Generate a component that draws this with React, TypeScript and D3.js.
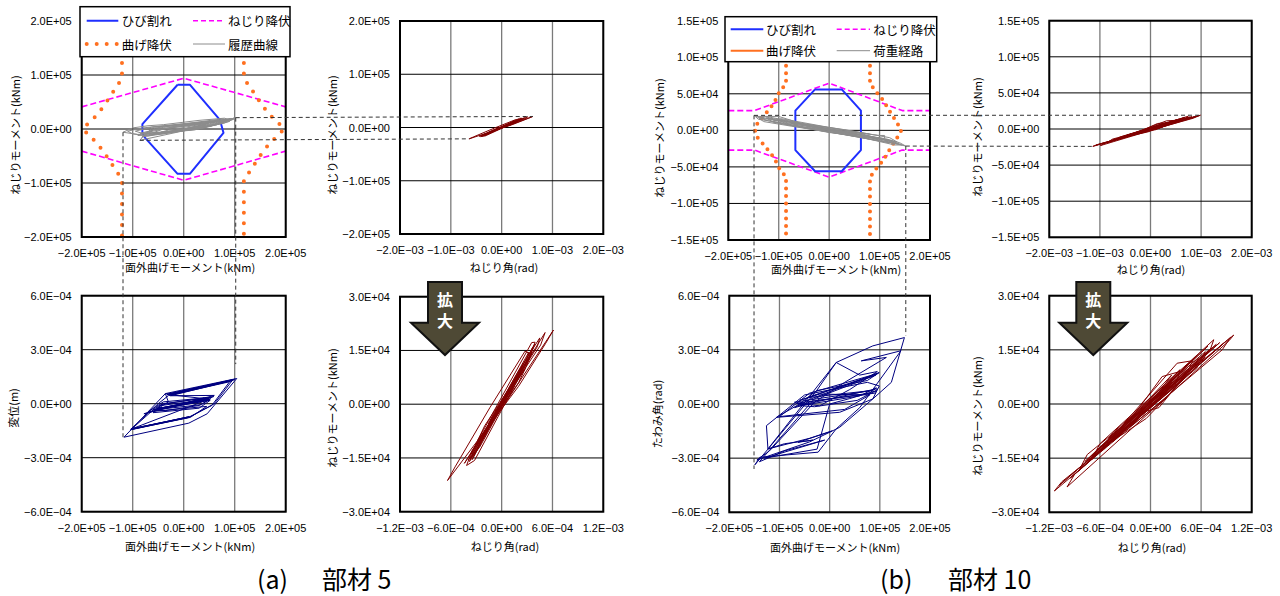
import React from "react";
import * as d3 from "d3";

type Pt = [number, number];

// ---------- tick values ----------
const ticksBend = [-200000, -100000, 0, 100000, 200000];
const ticksTorqueA = [-200000, -100000, 0, 100000, 200000];
const ticksTorqueB = [-150000, -100000, -50000, 0, 50000, 100000, 150000];
const ticksTwistWide = [-2e-3, -1e-3, 0, 1e-3, 2e-3];
const ticksTwistZoom = [-1.2e-3, -6e-4, 0, 6e-4, 1.2e-3];
const ticksTorqueZoom = [-3e4, -1.5e4, 0, 1.5e4, 3e4];
const ticksDefl = [-6e-4, -3e-4, 0, 3e-4, 6e-4];

// ---------- member 5 (a): interaction diagram ----------
const crackA: Pt[] = [[-12000, 82000], [12000, 82000], [71000, 17000], [78000, -7000], [12000, -83000], [-12000, -83000], [-76000, -16000], [-81000, -7000], [-81000, 9000], [-12000, 82000]];
const torsionYieldA_top: Pt[] = [[-200000, 41000], [0, 94000], [200000, 41000]];
const torsionYieldA_bot: Pt[] = [[-200000, -41000], [0, -95000], [200000, -41000]];
const bendYieldA_L: Pt[] = [[-121000, 200000], [-121000, 93000], [-132000, 78000], [-145000, 59000], [-158000, 41000], [-171000, 25000], [-188000, 10000], [-197000, 0], [-188000, -10000], [-171000, -25000], [-158000, -41000], [-145000, -59000], [-132000, -78000], [-121000, -93000], [-121000, -200000]];
const bendYieldA_R: Pt[] = [[118000, 200000], [118000, 93000], [130000, 78000], [143000, 59000], [156000, 41000], [170000, 25000], [187000, 10000], [197000, 0], [187000, -10000], [170000, -25000], [156000, -41000], [143000, -59000], [130000, -78000], [118000, -93000], [118000, -200000]];
const histA: Pt[] = [[0, 0], [20000, 4000], [45000, 9000], [30000, 5000], [-20000, -3000], [-45000, -6000], [-30000, -2000], [55000, 12000], [62000, 13000], [40000, 6000], [-50000, -8000], [-60000, -7000], [-40000, 0], [70000, 15000], [78000, 16000], [50000, 8000], [-65000, -10000], [-75000, -12000], [-55000, 2000], [85000, 18000], [92000, 19000], [60000, 9000], [-86000, -21000], [-80000, -14000], [-60000, 3000], [95000, 19000], [102000, 21000], [70000, 10000], [20000, -2000], [-90000, -10000], [-119000, -6000], [-100000, 2000], [-70000, 6000], [-40000, 8000], [30000, 16000], [80000, 20000], [88000, 17000], [45000, 5000], [-30000, -5000], [-78000, -9000], [-95000, -4000], [-60000, 4000], [30000, 10000], [75000, 14000], [98000, 20000], [55000, 6000], [0, -3000], [-50000, -6000], [-85000, -8000], [-40000, 3000], [10000, 7000], [60000, 14000], [96000, 18000], [65000, 8000], [10000, -1000], [-55000, -10000], [-82000, -15000], [-70000, -6000], [-20000, 4000], [40000, 13000], [85000, 16000], [90000, 14000], [40000, 2000], [-20000, -6000], [-70000, -13000], [-100000, -9000], [-110000, -4000], [-80000, 2000], [-30000, 7000], [20000, 12000], [70000, 18000], [100000, 19000], [80000, 11000], [30000, 1000], [-40000, -9000], [-90000, -12000], [-60000, -2000], [0, 5000], [50000, 11000], [0, 0]];

// ---------- member 5 (a): twist hysteresis (rad, kNm) ----------
const twistA: Pt[] = [[0, 0], [1.0e-4, 3500], [1.5e-4, 5000], [0.8e-4, 2000], [-1.2e-4, -4500], [-1.6e-4, -5500], [-0.8e-4, -2000], [2.2e-4, 8000], [2.8e-4, 10000], [2.0e-4, 6000], [-2.3e-4, -8500], [-2.8e-4, -10000], [-2.0e-4, -6000], [3.0e-4, 12000], [3.6e-4, 14500], [2.8e-4, 10000], [-3.0e-4, -11500], [-3.6e-4, -14000], [-2.8e-4, -10000], [3.55e-4, 17200], [3.95e-4, 17300], [3.2e-4, 12500], [-3.2e-4, -15700], [-4.14e-4, -17100], [-3.5e-4, -13000], [5.13e-4, 20000], [4.6e-4, 16500], [0.5e-4, 2000], [-3.8e-4, -16000], [-3.0e-4, -12000], [6.12e-4, 20700], [5.2e-4, 17000], [2.0e-4, 5000], [-6.39e-4, -21300], [-5.5e-4, -17500], [-1.4e-4, -1000], [2.76e-4, 14800], [3.4e-4, 14000], [-2.0e-4, -9000], [-3.5e-4, -15500], [-2.5e-4, -11000], [3.7e-4, 16000], [3.3e-4, 13500], [-3.3e-4, -14000], [-3.9e-4, -15500], [-3.1e-4, -12500], [3.9e-4, 16800], [3.5e-4, 14200], [-2.6e-4, -12000], [-3.7e-4, -15200], [-2.9e-4, -11500], [3.2e-4, 14500], [2.9e-4, 11800], [-2.2e-4, -9500], [-3.3e-4, -14500], [-2.4e-4, -9800], [2.5e-4, 11000], [2.1e-4, 8500], [-1.5e-4, -6500], [-2.0e-4, -8000], [-1.2e-4, -4000], [1.8e-4, 8500], [4.5e-4, 18500], [4.2e-4, 16000], [-4.4e-4, -16500], [-3.4e-4, -13000], [0, 0]];

// ---------- member 5 (a): displacement vs bending (kNm, m) ----------
const dispA: Pt[] = [[0, 0], [35000, 0.20e-4], [52000, 0.25e-4], [30000, -0.10e-4], [-35000, -0.38e-4], [-59000, -0.37e-4], [-40000, 0], [40000, 0.30e-4], [55000, 0.35e-4], [35000, -0.05e-4], [-45000, -0.30e-4], [-60000, -0.33e-4], [-45000, -0.05e-4], [45000, 0.35e-4], [50000, 0.20e-4], [-55000, -0.35e-4], [-30000, 0.10e-4], [-36000, 0.56e-4], [104000, 1.40e-4], [46000, -0.56e-4], [10000, -1.08e-4], [-117000, -1.86e-4], [-36000, 0.56e-4], [-30000, 0.55e-4], [98000, 1.32e-4], [-28000, 0.48e-4], [95000, 1.28e-4], [60000, 0], [12000, -0.74e-4], [-104000, -1.42e-4], [-50000, 0], [-30000, 0.45e-4], [90000, 1.22e-4], [55000, -0.10e-4], [12000, -0.72e-4], [-100000, -1.38e-4], [10000, -0.76e-4], [-104000, -1.45e-4], [-60000, -0.35e-4], [52000, 0.19e-4], [30000, -0.25e-4], [-60000, -0.50e-4], [-45000, -0.10e-4], [50000, 0.25e-4], [-33000, 0.52e-4], [100000, 1.36e-4], [-32000, 0.50e-4], [96000, 1.30e-4], [-26000, 0.44e-4], [60000, 0.46e-4], [-78000, -0.56e-4], [59000, 0.40e-4], [-50000, -0.30e-4], [48000, 0.22e-4], [-48000, -0.25e-4], [50000, 0.28e-4], [-52000, -0.28e-4], [45000, 0.20e-4], [-102000, -1.40e-4], [11000, -0.72e-4], [-103000, -1.43e-4], [13000, -0.76e-4], [45000, -0.15e-4], [-70000, -0.45e-4], [-40000, 0.10e-4], [40000, 0.32e-4], [0, 0]];

// ---------- member 10 (b): interaction diagram ----------
const crackB: Pt[] = [[-28000, 56000], [25000, 56000], [63000, 27000], [63000, -27000], [25000, -56000], [-28000, -56000], [-67000, -27000], [-67000, 27000], [-28000, 56000]];
const torsionYieldB_top: Pt[] = [[-200000, 27000], [-148000, 27000], [0, 64600], [145000, 27000], [200000, 27000]];
const torsionYieldB_bot: Pt[] = [[-200000, -27000], [-148000, -27000], [0, -64000], [145000, -27000], [200000, -27000]];
const bendYieldB_L: Pt[] = [[-85500, 150000], [-85500, 64000], [-99000, 52000], [-106000, 42000], [-115000, 32000], [-129000, 20500], [-142000, 10000], [-147000, 0], [-142000, -10000], [-129000, -20500], [-115000, -32000], [-106000, -42000], [-99000, -52000], [-85500, -64000], [-85500, -150000]];
const bendYieldB_R: Pt[] = [[81000, 150000], [81000, 64000], [94000, 52000], [106000, 42000], [115000, 32000], [125000, 20500], [135000, 10000], [143000, 0], [135000, -10000], [125000, -20500], [115000, -32000], [106000, -42000], [94000, -52000], [81000, -64000], [81000, -150000]];
const histB: Pt[] = [[0, 0], [30000, -5000], [50000, -7000], [40000, -3000], [-20000, 3000], [-45000, 6000], [-35000, 3000], [10000, -1000], [65000, -9000], [75000, -10000], [55000, -5000], [-60000, 9000], [-75000, 10000], [-60000, 6000], [90000, -13000], [100000, -14000], [80000, -8000], [-90000, 13000], [-100000, 14000], [-85000, 9000], [110000, -16000], [120000, -17000], [105000, -11000], [-110000, 16000], [-125000, 17000], [-110000, 11000], [130000, -18000], [140000, -19000], [115000, -12000], [40000, -4000], [-135000, 18000], [-149000, 20500], [-140000, 15000], [-90000, 10000], [100000, -7000], [110000, -7000], [110000, -11000], [80000, -10000], [152000, -21500], [140000, -17000], [120000, -13000], [0, -3000], [-120000, 13000], [-145000, 19000], [-100000, 19000], [-20000, 2000], [60000, -6000], [125000, -15000], [100000, -12000], [20000, -4000], [-60000, 4000], [-130000, 12000], [-140000, 17000], [-70000, 11000], [30000, 1000], [120000, -10000], [135000, -16000], [90000, -10000], [-10000, 1000], [-110000, 14000], [-125000, 19000], [-50000, 9000], [50000, -2000], [145000, -20000], [130000, -20000], [60000, -9000], [-40000, 2000], [-115000, 12000], [-95000, 16000], [0, 4000], [80000, -5000], [0, 0]];

// ---------- member 10 (b): twist hysteresis (rad, kNm) ----------
const twistB: Pt[] = [[0, 0], [1.5e-4, 4000], [2.5e-4, 6000], [1.8e-4, 3000], [-1.5e-4, -4000], [-2.5e-4, -5500], [-1.8e-4, -2500], [1.38e-4, 7600], [3.5e-4, 9000], [2.8e-4, 4500], [-3.5e-4, -8000], [-4.0e-4, -9500], [-3.0e-4, -5000], [3.16e-4, 11300], [5.0e-4, 12000], [4.0e-4, 7000], [-0.5e-4, -4000], [-5.0e-4, -11000], [-5.5e-4, -12500], [-4.5e-4, -8000], [6.0e-4, 13500], [6.5e-4, 14500], [5.5e-4, 10000], [-6.5e-4, -14000], [-7.0e-4, -15500], [-6.0e-4, -11000], [7.5e-4, 17800], [7.0e-4, 14500], [5.0e-4, 11500], [-8.0e-4, -17500], [-8.5e-4, -18500], [-7.5e-4, -14000], [9.87e-4, 19100], [9.3e-4, 17500], [-9.9e-4, -23000], [-9.0e-4, -19500], [9.5e-4, 18500], [8.5e-4, 15000], [-11.4e-4, -24100], [-10.5e-4, -21500], [2.0e-4, 2000], [4.5e-4, 9000], [1.0e-4, -1000], [-2.0e-4, -3000], [-7.8e-4, -16000], [7.2e-4, 15500], [-7.0e-4, -14500], [6.8e-4, 16000], [-6.2e-4, -12500], [8.2e-4, 17000], [-8.8e-4, -19000], [5.8e-4, 11500], [-5.0e-4, -9500], [7.8e-4, 16500], [-9.5e-4, -20500], [9.0e-4, 17500], [-10.8e-4, -22500], [6.5e-4, 13000], [-4.0e-4, -7500], [3.5e-4, 9500], [-3.0e-4, -7000], [4.2e-4, 10500], [1.0e-4, 3500], [-2.5e-4, -6500], [3.0e-4, 6000], [-4.5e-4, -10500], [5.5e-4, 13500], [-6.0e-4, -13000], [2.5e-4, 8000], [0, 0]];

// ---------- member 10 (b): deflection angle vs bending (kNm, rad) ----------
const deflB: Pt[] = [[0, 0], [40000, 0.3e-4], [93000, 0.74e-4], [55000, 0.2e-4], [-30000, -0.15e-4], [-60000, -0.09e-4], [-35000, 0.15e-4], [80000, 0.6e-4], [93000, 0.9e-4], [60000, 0.45e-4], [-50000, -0.05e-4], [-70000, -0.2e-4], [-40000, 0.25e-4], [99000, 1.75e-4], [75000, 1.3e-4], [-26000, 0.74e-4], [-60000, 0], [-106000, -0.74e-4], [20000, -0.46e-4], [86000, 0.28e-4], [99000, 1.0e-4], [75000, 1.2e-4], [-50000, 0.5e-4], [-126000, -1.2e-4], [-123000, -2.49e-4], [-40000, -1.9e-4], [7000, -1.47e-4], [20000, -1.29e-4], [86000, 0.28e-4], [123000, 1.2e-4], [149000, 3.68e-4], [86000, 3.22e-4], [13000, 2.30e-4], [-26000, 0.74e-4], [-149000, -3.37e-4], [-139000, -2.95e-4], [-23000, -2.67e-4], [13000, -1.38e-4], [60000, -0.2e-4], [142000, 2.95e-4], [63000, 2.39e-4], [113000, 2.58e-4], [30000, 1.2e-4], [-30000, 0.1e-4], [-120000, -2.6e-4], [-145000, -3.1e-4], [-40000, -2.1e-4], [5000, -1.5e-4], [-63000, -2.12e-4], [-33000, -2.0e-4], [-90000, -2.2e-4], [-123000, -2.49e-4], [13000, 2.30e-4], [60000, 1.6e-4], [95000, 1.8e-4], [40000, 0.8e-4], [-20000, -0.1e-4], [-65000, 0.05e-4], [90000, 0.6e-4], [95000, 0.85e-4], [-55000, -0.05e-4], [-70000, 0.1e-4], [85000, 0.75e-4], [-45000, 0.35e-4], [97000, 1.7e-4], [-40000, 0.6e-4], [-100000, -0.7e-4], [30000, -0.3e-4], [80000, 0.5e-4], [-20000, 0.55e-4], [-60000, 0.2e-4], [70000, 1.4e-4], [92000, 1.6e-4], [-30000, 0.3e-4], [-140000, -3.2e-4], [-90000, -2.6e-4], [-10000, -2.0e-4], [-130000, -3.0e-4], [-25000, -2.5e-4], [0, 0]];

// ---------- texts ----------
const labelBend = "面外曲げモーメント(kNm)";
const labelTorque = "ねじりモーメント(kNm)";
const labelTwist = "ねじり角(rad)";
const labelDispA = "変位(m)";
const labelDeflB = "たわみ角(rad)";
const legendA = ["ひび割れ", "ねじり降伏", "曲げ降伏", "履歴曲線"];
const legendB = ["ひび割れ", "ねじり降伏", "曲げ降伏", "荷重経路"];
const captionA = ["(a)", "部材 5"];
const captionB = ["(b)", "部材 10"];
const arrowText = ["拡", "大"];

// ---------- styles ----------
const C_CRACK = "#1f2fff";
const C_TYIELD = "#ff00ff";
const C_BYIELD = "#ff7020";
const C_HIST = "#8c8c8c";
const C_NAVY = "#000080";
const C_RED = "#800000";
const NUM_FONT = "'Liberation Sans', Arial, sans-serif";
const JP_FONT = "'Noto Sans CJK JP', 'Noto Sans', sans-serif";

interface PanelDef {
  x0: number; x1: number; y0: number; y1: number;
  xd: [number, number]; yd: [number, number];
  xt: number[]; yt: number[];
  xl: string; yl: string;
  xlx: number; xly: number; ylx: number; yly: number;
}

const P: Record<string, PanelDef> = {
  a1: { x0: 81.7, x1: 285.7, y0: 21, y1: 237, xd: [-2e5, 2e5], yd: [-2e5, 2e5], xt: ticksBend, yt: ticksTorqueA, xl: labelBend, yl: labelTorque, xlx: 190, xly: 272, ylx: 15, yly: 135 },
  a2: { x0: 400, x1: 603.3, y0: 21, y1: 234, xd: [-2e-3, 2e-3], yd: [-2e5, 2e5], xt: ticksTwistWide, yt: ticksTorqueA, xl: labelTwist, yl: labelTorque, xlx: 504, xly: 272, ylx: 332, yly: 135 },
  a3: { x0: 81.7, x1: 285.7, y0: 295.7, y1: 511.7, xd: [-2e5, 2e5], yd: [-6e-4, 6e-4], xt: ticksBend, yt: ticksDefl, xl: labelBend, yl: labelDispA, xlx: 190, xly: 551, ylx: 12.5, yly: 408 },
  a4: { x0: 400, x1: 603.3, y0: 296.7, y1: 511.7, xd: [-1.2e-3, 1.2e-3], yd: [-3e4, 3e4], xt: ticksTwistZoom, yt: ticksTorqueZoom, xl: labelTwist, yl: labelTorque, xlx: 505, xly: 551, ylx: 332, yly: 408 },
  b1: { x0: 728.3, x1: 930, y0: 20.7, y1: 240, xd: [-2e5, 2e5], yd: [-1.5e5, 1.5e5], xt: ticksBend, yt: ticksTorqueB, xl: labelBend, yl: labelTorque, xlx: 836, xly: 274, ylx: 659, yly: 138 },
  b2: { x0: 1049.3, x1: 1251.7, y0: 20.7, y1: 237.3, xd: [-2e-3, 2e-3], yd: [-1.5e5, 1.5e5], xt: ticksTwistWide, yt: ticksTorqueB, xl: labelTwist, yl: labelTorque, xlx: 1151, xly: 274, ylx: 977, yly: 137 },
  b3: { x0: 729.3, x1: 930, y0: 295.7, y1: 512.3, xd: [-2e5, 2e5], yd: [-6e-4, 6e-4], xt: ticksBend, yt: ticksDefl, xl: labelBend, yl: labelDeflB, xlx: 835, xly: 552, ylx: 657, yly: 414 },
  b4: { x0: 1049.3, x1: 1251.7, y0: 295.7, y1: 512.3, xd: [-1.2e-3, 1.2e-3], yd: [-3e4, 3e4], xt: ticksTwistZoom, yt: ticksTorqueZoom, xl: labelTwist, yl: labelTorque, xlx: 1152, xly: 552, ylx: 977, yly: 416 },
};

function scales(p: PanelDef) {
  return {
    x: d3.scaleLinear().domain(p.xd).range([p.x0, p.x1]),
    y: d3.scaleLinear().domain(p.yd).range([p.y1, p.y0]),
  };
}

function fmt(v: number): string {
  if (v === 0) return "0.0E+00";
  const e = Math.floor(Math.log10(Math.abs(v)) + 1e-9);
  const m = Math.abs(v) / Math.pow(10, e);
  return (v < 0 ? "\u2212" : "") + m.toFixed(1) + "E" + (e < 0 ? "\u2212" : "+") + String(Math.abs(e)).padStart(2, "0");
}

function Grid({ p }: { p: PanelDef }) {
  const { x, y } = scales(p);
  return (
    <g>
      <rect x={p.x0} y={p.y0} width={p.x1 - p.x0} height={p.y1 - p.y0} fill="#fff" />
      {p.xt.map((t) => (
        <line key={"v" + t} x1={x(t)} x2={x(t)} y1={p.y0} y2={p.y1} stroke="#7a7a7a" strokeWidth={1.3} />
      ))}
      {p.yt.map((t) => (
        <line key={"h" + t} x1={p.x0} x2={p.x1} y1={y(t)} y2={y(t)} stroke="#000" strokeWidth={1} />
      ))}
    </g>
  );
}

function Frame({ p }: { p: PanelDef }) {
  const { x, y } = scales(p);
  return (
    <g>
      <rect x={p.x0} y={p.y0} width={p.x1 - p.x0} height={p.y1 - p.y0} fill="none" stroke="#000" strokeWidth={2} />
      {p.yt.map((t) => (
        <text key={"yl" + t} x={p.x0 - 10} y={y(t)} textAnchor="end" dominantBaseline="central" fontFamily={NUM_FONT} fontSize={11} fill="#000">{fmt(t)}</text>
      ))}
      {p.xt.map((t) => (
        <text key={"xl" + t} x={x(t)} y={p.y1 + 16} textAnchor="middle" dominantBaseline="central" fontFamily={NUM_FONT} fontSize={11} fill="#000">{fmt(t)}</text>
      ))}
      <text x={p.xlx} y={p.xly} textAnchor="middle" fontFamily={JP_FONT} fontSize={11} fill="#000">{p.xl}</text>
      <text transform={`translate(${p.ylx},${p.yly}) rotate(-90)`} textAnchor="middle" dominantBaseline="central" fontFamily={JP_FONT} fontSize={11} fill="#000">{p.yl}</text>
    </g>
  );
}

function Series({ p, data, color, width = 1, dash, cap }: { p: PanelDef; data: Pt[]; color: string; width?: number; dash?: string; cap?: "round" | "butt" }) {
  const { x, y } = scales(p);
  const gen = d3.line<Pt>().x((d) => x(d[0])).y((d) => y(d[1]));
  return <path d={gen(data) || ""} fill="none" stroke={color} strokeWidth={width} strokeDasharray={dash} strokeLinecap={cap || "butt"} strokeLinejoin="round" />;
}

function Legend({ bx, by, bw, bh, rows, cols, texts, bendSolid }: { bx: number; by: number; bw: number; bh: number; rows: number[]; cols: number[][]; texts: string[]; bendSolid: boolean }) {
  const items = [
    { color: C_CRACK, w: 2, dash: undefined as string | undefined, cap: "butt" },
    { color: C_TYIELD, w: 1.6, dash: "5,3", cap: "butt" },
    bendSolid ? { color: C_BYIELD, w: 2, dash: undefined, cap: "butt" } : { color: C_BYIELD, w: 4, dash: "0,10", cap: "round" },
    { color: C_HIST, w: 1, dash: undefined, cap: "butt" },
  ];
  return (
    <g>
      <rect x={bx} y={by} width={bw} height={bh} fill="#fff" stroke="#000" strokeWidth={1.5} />
      {items.map((it, i) => {
        const r = rows[Math.floor(i / 2)];
        const c = cols[i % 2];
        return (
          <g key={i}>
            <line x1={c[0]} x2={c[1]} y1={r} y2={r} stroke={it.color} strokeWidth={it.w} strokeDasharray={it.dash} strokeLinecap={it.cap as any} />
            <text x={c[2]} y={r} dominantBaseline="central" fontFamily={JP_FONT} fontSize={12.5} fill="#000">{texts[i]}</text>
          </g>
        );
      })}
    </g>
  );
}

function Arrow({ cx }: { cx: number }) {
  const top = 282, neck = 322.7, tip = 355, sw = 17, hw = 34;
  const pts = [[cx - sw, top], [cx + sw, top], [cx + sw, neck], [cx + hw, neck], [cx, tip], [cx - hw, neck], [cx - sw, neck]];
  return (
    <g>
      <polygon points={pts.map((q) => q.join(",")).join(" ")} fill="#4e4935" stroke="#111" strokeWidth={2} />
      <text x={cx} y={298.5} textAnchor="middle" dominantBaseline="central" fontFamily={JP_FONT} fontWeight="bold" fontSize={16} fill="#fff">{arrowText[0]}</text>
      <text x={cx} y={320} textAnchor="middle" dominantBaseline="central" fontFamily={JP_FONT} fontWeight="bold" fontSize={16} fill="#fff">{arrowText[1]}</text>
    </g>
  );
}

function Connector({ p1, v1, p2, v2 }: { p1: PanelDef; v1: Pt; p2: PanelDef; v2: Pt }) {
  const s1 = scales(p1), s2 = scales(p2);
  return <line x1={s1.x(v1[0])} y1={s1.y(v1[1])} x2={s2.x(v2[0])} y2={s2.y(v2[1])} stroke="#333" strokeWidth={1} strokeDasharray="4,3" />;
}

function VConnector({ p1, v1, p2, yEnd }: { p1: PanelDef; v1: Pt; p2: PanelDef; yEnd: number }) {
  const s1 = scales(p1), s2 = scales(p2);
  const xx = s1.x(v1[0]);
  return <line x1={xx} y1={s1.y(v1[1])} x2={xx} y2={s2.y(yEnd)} stroke="#333" strokeWidth={1} strokeDasharray="4,3" />;
}

export default function App() {
  const { a1, a2, a3, a4, b1, b2, b3, b4 } = P;
  return (
    <svg width={1280} height={596} style={{ position: "absolute", left: 0, top: 0, background: "#fff" }}>
      <rect x={0} y={0} width={1280} height={596} fill="#fff" />
      {[a1, a2, a3, a4, b1, b2, b3, b4].map((p, i) => <Grid key={i} p={p} />)}

      {/* a1 */}
      <Series p={a1} data={torsionYieldA_top} color={C_TYIELD} width={1.6} dash="6,3" />
      <Series p={a1} data={torsionYieldA_bot} color={C_TYIELD} width={1.6} dash="6,3" />
      <Series p={a1} data={bendYieldA_L} color={C_BYIELD} width={4} dash="0,10.5" cap="round" />
      <Series p={a1} data={bendYieldA_R} color={C_BYIELD} width={4} dash="0,10.5" cap="round" />
      <Series p={a1} data={crackA} color={C_CRACK} width={2} />
      <Series p={a1} data={histA} color={C_HIST} width={1} />
      {/* a2, a4 */}
      <Series p={a2} data={twistA} color={C_RED} width={1} />
      <Series p={a4} data={twistA} color={C_RED} width={1} />
      {/* a3 */}
      <Series p={a3} data={dispA} color={C_NAVY} width={1} />

      {/* b1 */}
      <Series p={b1} data={torsionYieldB_top} color={C_TYIELD} width={1.6} dash="6,3" />
      <Series p={b1} data={torsionYieldB_bot} color={C_TYIELD} width={1.6} dash="6,3" />
      <Series p={b1} data={bendYieldB_L} color={C_BYIELD} width={4} dash="0,7.5" cap="round" />
      <Series p={b1} data={bendYieldB_R} color={C_BYIELD} width={4} dash="0,7.5" cap="round" />
      <Series p={b1} data={crackB} color={C_CRACK} width={2} />
      <Series p={b1} data={histB} color={C_HIST} width={1} />
      {/* b2, b4 */}
      <Series p={b2} data={twistB} color={C_RED} width={1} />
      <Series p={b4} data={twistB} color={C_RED} width={1} />
      {/* b3 */}
      <Series p={b3} data={deflB} color={C_NAVY} width={1} />

      {[a1, a2, a3, a4, b1, b2, b3, b4].map((p, i) => <Frame key={"f" + i} p={p} />)}

      <Legend bx={80} by={6.7} bw={210} bh={50} rows={[20.7, 44]} cols={[[86.7, 118.3, 121.7], [193, 225, 228]]} texts={legendA} bendSolid={false} />
      <Legend bx={725} by={16.7} bw={211.7} bh={45} rows={[29.3, 50.7]} cols={[[730.7, 763.3, 766], [836.7, 870, 873.3]]} texts={legendB} bendSolid={true} />

      {/* dashed connectors */}
      <Connector p1={a1} v1={histA[26]} p2={a2} v2={twistA[30]} />
      <Connector p1={a1} v1={histA[22]} p2={a2} v2={twistA[33]} />
      <VConnector p1={a1} v1={histA[30]} p2={a3} yEnd={-1.86e-4} />
      <VConnector p1={a1} v1={histA[26]} p2={a3} yEnd={2.2e-4} />
      <Connector p1={b1} v1={histB[31]} p2={b2} v2={twistB[32]} />
      <Connector p1={b1} v1={histB[38]} p2={b2} v2={twistB[38]} />
      <VConnector p1={b1} v1={histB[31]} p2={b3} yEnd={-3.6e-4} />
      <VConnector p1={b1} v1={histB[38]} p2={b3} yEnd={3.8e-4} />

      <Arrow cx={445} />
      <Arrow cx={1093.3} />

      <text x={257} y={589} fontFamily={JP_FONT} fontSize={25} fill="#000">{captionA[0]}</text>
      <text x={322} y={589} fontFamily={JP_FONT} fontSize={25} fill="#000">{captionA[1]}</text>
      <text x={880} y={589} fontFamily={JP_FONT} fontSize={25} fill="#000">{captionB[0]}</text>
      <text x={948} y={589} fontFamily={JP_FONT} fontSize={25} fill="#000">{captionB[1]}</text>
    </svg>
  );
}
